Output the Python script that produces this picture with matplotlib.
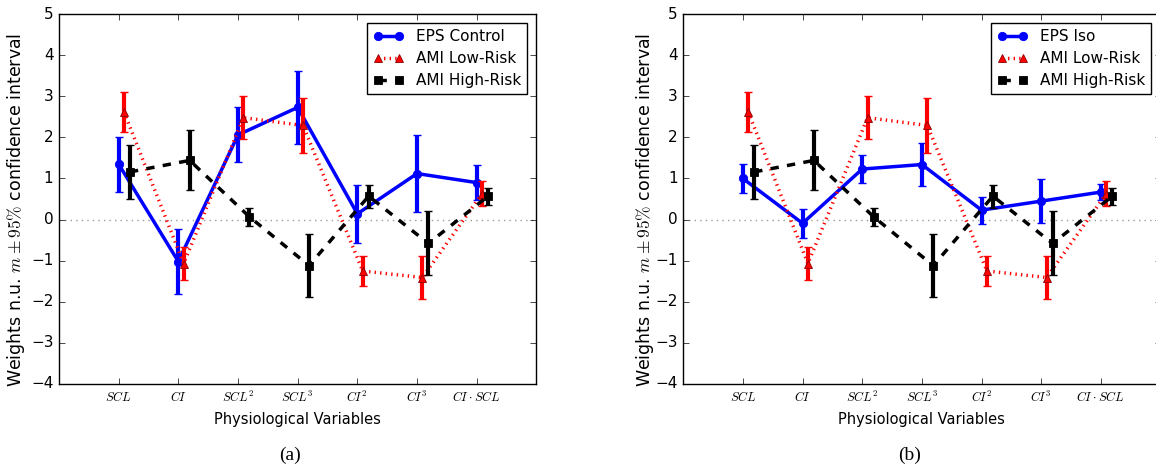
import matplotlib
matplotlib.use("Agg")
import matplotlib.pyplot as plt
import numpy as np

variables = [r"$SCL$", r"$CI$", r"$SCL^2$", r"$SCL^3$", r"$CI^2$", r"$CI^3$", r"$CI \cdot SCL$"]

# means and half-widths of the 95% confidence intervals
eps_control_mean = [1.35, -1.02, 2.06, 2.73, 0.14, 1.12, 0.90]
eps_control_ci = [0.67, 0.80, 0.67, 0.88, 0.70, 0.93, 0.42]

eps_iso_mean = [1.00, -0.09, 1.23, 1.34, 0.23, 0.45, 0.67]
eps_iso_ci = [0.35, 0.35, 0.35, 0.52, 0.33, 0.53, 0.20]

ami_low_mean = [2.62, -1.07, 2.48, 2.29, -1.25, -1.41, 0.63]
ami_low_ci = [0.48, 0.41, 0.52, 0.67, 0.37, 0.53, 0.31]

ami_high_mean = [1.16, 1.44, 0.07, -1.12, 0.57, -0.58, 0.57]
ami_high_ci = [0.65, 0.73, 0.22, 0.76, 0.28, 0.78, 0.21]


def draw_series(ax, x, mean, ci, color, style, marker, edge, label):
    ax.errorbar(x, mean, yerr=ci, fmt="none", ecolor=color,
                elinewidth=3, capsize=3, capthick=1)
    line, = ax.plot(x, mean, color=color, linestyle=style, linewidth=2.5,
                    marker=marker, markersize=6, markerfacecolor=color,
                    markeredgecolor=edge, markeredgewidth=0.6, label=label)
    return line


def draw_panel(ax, eps_mean, eps_ci, eps_label, label_x):
    x = np.arange(1, len(variables) + 1)

    ax.axhline(0, color="0.6", linestyle=":", linewidth=1, zorder=0)

    h1 = draw_series(ax, x, eps_mean, eps_ci, "blue", "-", "o", "blue", eps_label)
    h2 = draw_series(ax, x + 0.09, ami_low_mean, ami_low_ci, "red", ":", "^",
                     "darkred", "AMI Low-Risk")
    h3 = draw_series(ax, x + 0.19, ami_high_mean, ami_high_ci, "black", "--", "s",
                     "black", "AMI High-Risk")

    ax.set_xlim(0, 8)
    ax.set_ylim(-4, 5)
    ax.set_xticks(x)
    ax.set_xticklabels(variables, fontsize=9)
    ax.set_yticks(range(-4, 6))
    ax.tick_params(axis="y", labelsize=11)
    ax.set_xlabel("Physiological Variables", fontsize=10.5)
    ax.set_ylabel(r"Weights n.u. $m \pm 95\%$ confidence interval", fontsize=12.5)
    ax.yaxis.set_label_coords(label_x, 0.47)

    leg = ax.legend(handles=[h1, h2, h3], loc="upper right", fontsize=11,
                    numpoints=2, handlelength=2.0, labelspacing=0.45,
                    borderaxespad=0.6)
    leg.get_frame().set_edgecolor("black")


plt.style.use("classic")
plt.rcParams["mathtext.fontset"] = "cm"

fig = plt.figure(figsize=(11.56, 4.70), dpi=100, facecolor="white")
ax_a = fig.add_axes([0.051, 0.183, 0.413, 0.787])
ax_b = fig.add_axes([0.591, 0.183, 0.413, 0.787])

draw_panel(ax_a, eps_control_mean, eps_control_ci, "EPS Control", -0.066)
draw_panel(ax_b, eps_iso_mean, eps_iso_ci, "EPS Iso", -0.056)

fig.text(0.251, 0.032, "(a)", ha="center", va="center",
         family="Liberation Serif", fontsize=14)
fig.text(0.787, 0.032, "(b)", ha="center", va="center",
         family="Liberation Serif", fontsize=14)

fig.savefig("out.png", dpi=100, facecolor="white")
